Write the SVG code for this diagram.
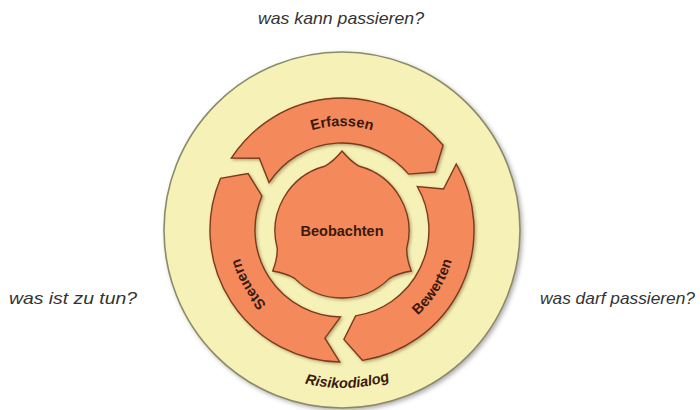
<svg xmlns="http://www.w3.org/2000/svg" xmlns:xlink="http://www.w3.org/1999/xlink" width="700" height="410" viewBox="0 0 700 410">
  <style>
    .q { font-family: "Liberation Sans", Arial, sans-serif; font-style: italic; font-size: 17px; fill: #333333; }
    .seg { fill: #F4895B; stroke: #7B3B1C; stroke-width: 1.4; stroke-linejoin: miter; filter: url(#sh); }
    .lbl { font-family: "Liberation Sans", Arial, sans-serif; font-weight: bold; font-size: 14.5px; fill: #3B1A0C; }
    .ring { fill: #F6F2B7; stroke: #8B8B6A; stroke-width: 1.6; filter: url(#sh2); }
  </style>
  <defs>
    <filter id="sh" x="-20%" y="-20%" width="140%" height="140%">
      <feDropShadow dx="1.5" dy="1.5" stdDeviation="1.5" flood-color="#6B4A2A" flood-opacity="0.45"/>
    </filter>
    <filter id="sh2" x="-10%" y="-10%" width="120%" height="120%">
      <feDropShadow dx="2" dy="2" stdDeviation="2" flood-color="#555555" flood-opacity="0.45"/>
    </filter>
    <path id="pErf" d="M244.27,194.43 A104,104 0 0 1 439.73,194.43"/>
    <path id="pSte" d="M323.60,334.39 A106,106 0 0 1 242.39,193.75"/>
    <path id="pBew" d="M357.87,342.89 A114,114 0 0 0 450.42,194.77"/>
    <path id="pRis" d="M249.13,357.82 A158,158 0 0 0 443.56,351.03"/>
  </defs>

  <g id="q-top"><text class="q" x="341" y="24" text-anchor="middle" textLength="166" lengthAdjust="spacingAndGlyphs">was kann passieren?</text></g>
  <g id="q-left"><text class="q" x="9" y="304" textLength="128" lengthAdjust="spacingAndGlyphs">was ist zu tun?</text></g>
  <g id="q-right"><text class="q" x="540" y="304" textLength="155" lengthAdjust="spacingAndGlyphs">was darf passieren?</text></g>

  <g id="node-risikodialog">
    <circle class="ring" cx="342" cy="230" r="178"/>
    <text class="lbl" font-style="italic"><textPath xlink:href="#pRis" href="#pRis" startOffset="50%" text-anchor="middle">Risikodialog</textPath></text>
  </g>

  <g id="connectors"></g>

  <g id="node-erfassen">
    <path class="seg" d="M231.3,158.1 A132,132 0 0 1 443.1,145.2 L434.9,172.0 L408.6,174.1 A87,87 0 0 0 269.0,182.6 L259.4,158.2 Z"/>
    <text class="lbl"><textPath xlink:href="#pErf" href="#pErf" startOffset="50%" text-anchor="middle">Erfassen</textPath></text>
  </g>

  <g id="node-bewerten">
    <path class="seg" d="M456.3,164.0 A132,132 0 0 1 362.6,360.4 L343.9,339.5 L355.6,315.9 A87,87 0 0 0 417.3,186.5 L443.5,189.0 Z"/>
    <text class="lbl"><textPath xlink:href="#pBew" href="#pBew" startOffset="50%" text-anchor="middle">Bewerten</textPath></text>
  </g>

  <g id="node-steuern">
    <path class="seg" d="M339.7,362.0 A132,132 0 0 1 220.5,178.4 L248.1,173.6 L261.9,196.0 A87,87 0 0 0 340.5,317.0 L324.9,338.2 Z"/>
    <text class="lbl"><textPath xlink:href="#pSte" href="#pSte" startOffset="50%" text-anchor="middle">Steuern</textPath></text>
  </g>

  <g id="node-beobachten">
    <path class="seg" d="M359.34,166.28 A67,67 0 0 1 406.72,248.34 Q406.44,258.35 411.28,271 Q397.90,273.13 389.38,278.38 A67,67 0 0 1 294.62,278.38 Q286.10,273.13 272.72,271 Q277.56,258.35 277.28,248.34 A67,67 0 0 1 324.66,166.28 Q333.47,161.52 342,151 Q350.53,161.52 359.34,166.28 Z"/>
    <text class="lbl" x="342" y="236" text-anchor="middle" font-size="14">Beobachten</text>
  </g>
</svg>
